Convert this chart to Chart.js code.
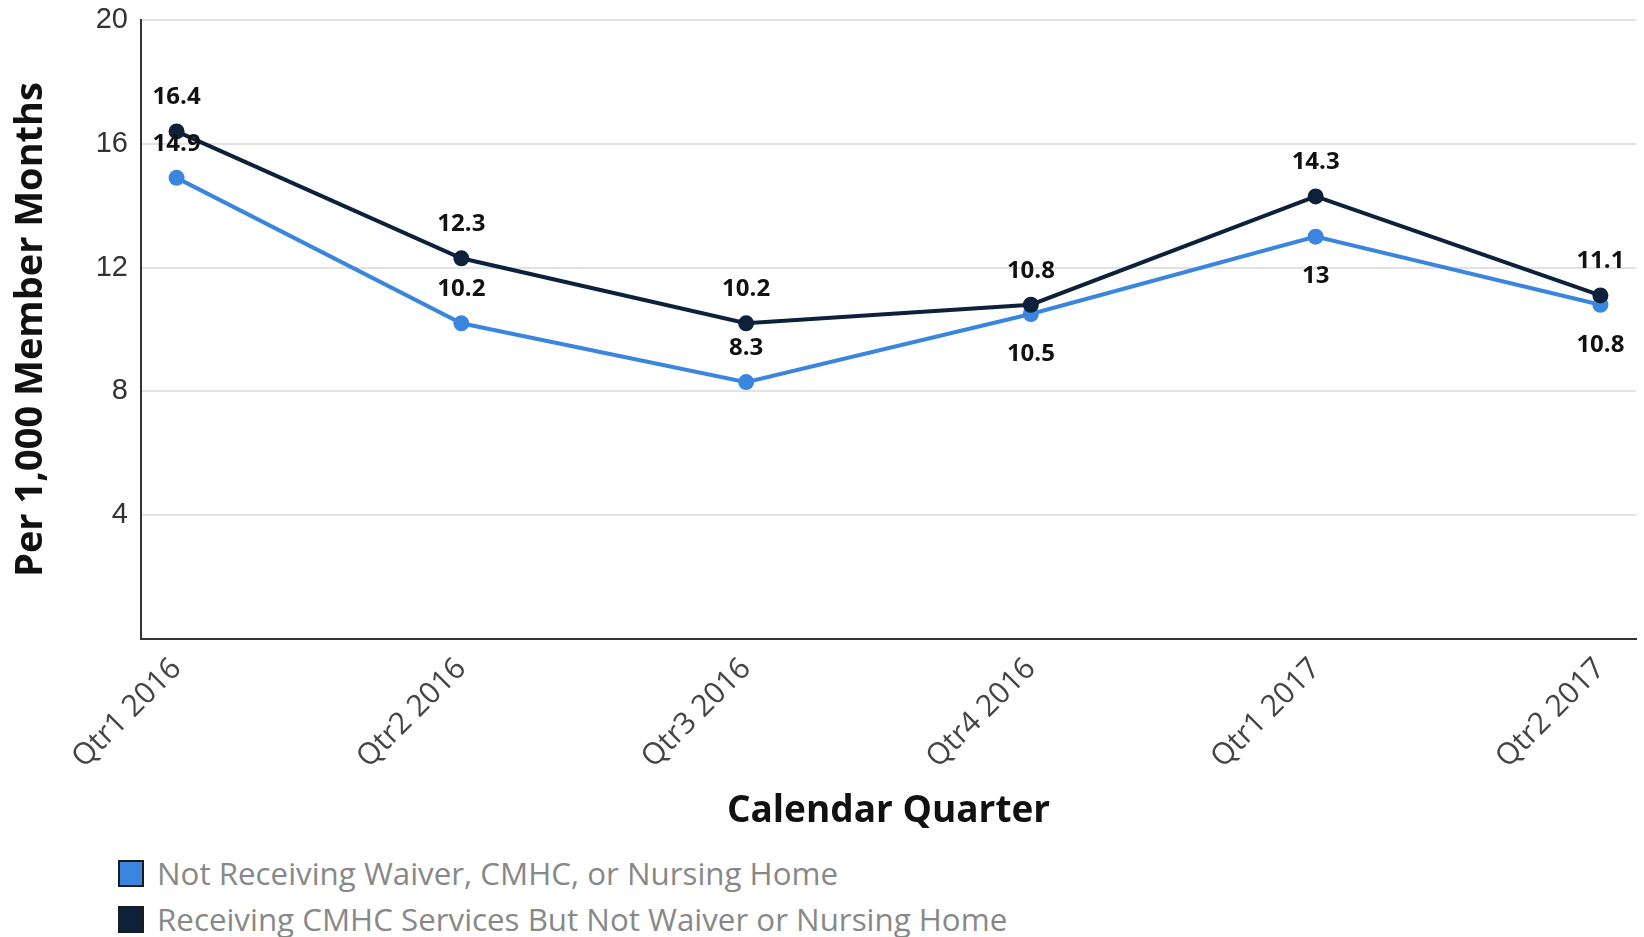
<!DOCTYPE html>
<html>
<head>
<meta charset="utf-8">
<title>Per 1,000 Member Months by Calendar Quarter</title>
<script src="https://cdn.jsdelivr.net/npm/chart.js@4/dist/chart.umd.min.js"></script>
<style>
  body { margin: 0; background: #fff; }
  #wrap { width: 1644px; height: 937px; overflow: hidden; }
  #legend { padding-left: 118px; font-family: "Open Sans", sans-serif; font-size: 31.3px; color: #888; }
  #legend .item { height: 46px; display: flex; align-items: center; white-space: nowrap; }
  #legend .box { width: 26px; height: 27px; box-sizing: border-box; border: 2px solid #1c1c1c; margin-right: 13px; }
</style>
</head>
<body>
<div id="wrap">
  <canvas id="chart" width="1644" height="850"></canvas>
  <div id="legend"></div>
</div>
<script>
// quarters on the x axis
const quarters = ['Qtr1 2016', 'Qtr2 2016', 'Qtr3 2016', 'Qtr4 2016', 'Qtr1 2017', 'Qtr2 2017'];
// rates per 1,000 member months
const notReceiving = [14.9, 10.2, 8.3, 10.5, 13, 10.8];
const receivingCmhc = [16.4, 12.3, 10.2, 10.8, 14.3, 11.1];
const yTicks = [0, 4, 8, 12, 16, 20];

const seriesNames = [
  'Not Receiving Waiver, CMHC, or Nursing Home',
  'Receiving CMHC Services But Not Waiver or Nursing Home'
];
const BLUE = '#3a86de';
const NAVY = '#0e213b';

function toPoints(values) {
  return values.map((v, i) => ({ x: i, y: v }));
}

// value labels over / under each point
const pointLabels = {
  id: 'pointLabels',
  afterDatasetsDraw(chart) {
    const ctx = chart.ctx;
    ctx.save();
    ctx.font = 'bold 24px "Open Sans"';
    ctx.fillStyle = '#111';
    ctx.textAlign = 'center';
    ctx.textBaseline = 'middle';
    chart.data.datasets.forEach((ds, i) => {
      chart.getDatasetMeta(i).data.forEach((pt, j) => {
        const below = ds.labelSide[j] === 'below';
        ctx.fillText(String(ds.data[j].y), pt.x, pt.y + (below ? 40 : -34));
      });
    });
    ctx.restore();
  }
};

const chart = new Chart(document.getElementById('chart'), {
  type: 'line',
  data: {
    datasets: [{
      label: seriesNames[0],
      data: toPoints(notReceiving),
      borderColor: BLUE,
      backgroundColor: BLUE,
      borderWidth: 4,
      pointRadius: 8,
      pointBorderWidth: 0,
      order: 2,
      labelSide: ['above', 'above', 'above', 'below', 'below', 'below']
    }, {
      label: seriesNames[1],
      data: toPoints(receivingCmhc),
      borderColor: NAVY,
      backgroundColor: NAVY,
      borderWidth: 4,
      pointRadius: 8,
      pointBorderWidth: 0,
      order: 1,
      labelSide: ['above', 'above', 'above', 'above', 'above', 'above']
    }]
  },
  options: {
    responsive: false,
    animation: false,
    layout: { padding: { top: 20, right: 3, left: 0, bottom: 0 } },
    plugins: {
      legend: { display: false },
      tooltip: { enabled: false }
    },
    scales: {
      x: {
        type: 'linear',
        min: -0.125,
        max: quarters.length - 1 + 0.125,
        afterBuildTicks: s => { s.ticks = quarters.map((q, i) => ({ value: i })); },
        afterFit: s => { s.height = 211; },
        ticks: {
          callback: v => quarters[v],
          minRotation: 45,
          maxRotation: 45,
          padding: 12,
          color: '#444',
          font: { family: 'Open Sans', size: 30 }
        },
        grid: { display: false, drawTicks: false },
        border: { color: '#333', width: 2 },
        title: {
          display: true,
          text: 'Calendar Quarter',
          color: '#111',
          font: { family: 'Open Sans', size: 37, weight: 'bold' },
          padding: { top: 0, bottom: 16 }
        }
      },
      y: {
        min: 0,
        max: 20,
        afterBuildTicks: s => { s.ticks = yTicks.map(v => ({ value: v })); },
        afterFit: s => { s.width = 141; s.paddingTop = 0; s.paddingBottom = 0; },
        ticks: {
          callback: v => (v === 0 ? '' : v),
          padding: 13,
          color: '#333',
          font: { family: 'Liberation Sans', size: 29 }
        },
        grid: { color: '#e2e2e2', lineWidth: 2, drawTicks: false },
        border: { color: '#333', width: 2 },
        title: {
          display: true,
          text: 'Per 1,000 Member Months',
          color: '#111',
          font: { family: 'Open Sans', size: 38, weight: 'bold' },
          padding: { top: 8, bottom: 0 }
        }
      }
    }
  },
  plugins: [pointLabels]
});

// legend list under the chart
const legend = document.getElementById('legend');
chart.data.datasets.forEach(ds => {
  const item = document.createElement('div');
  item.className = 'item';
  const box = document.createElement('span');
  box.className = 'box';
  box.style.background = ds.backgroundColor;
  const text = document.createElement('span');
  text.textContent = ds.label;
  item.appendChild(box);
  item.appendChild(text);
  legend.appendChild(item);
});
</script>
</body>
</html>
